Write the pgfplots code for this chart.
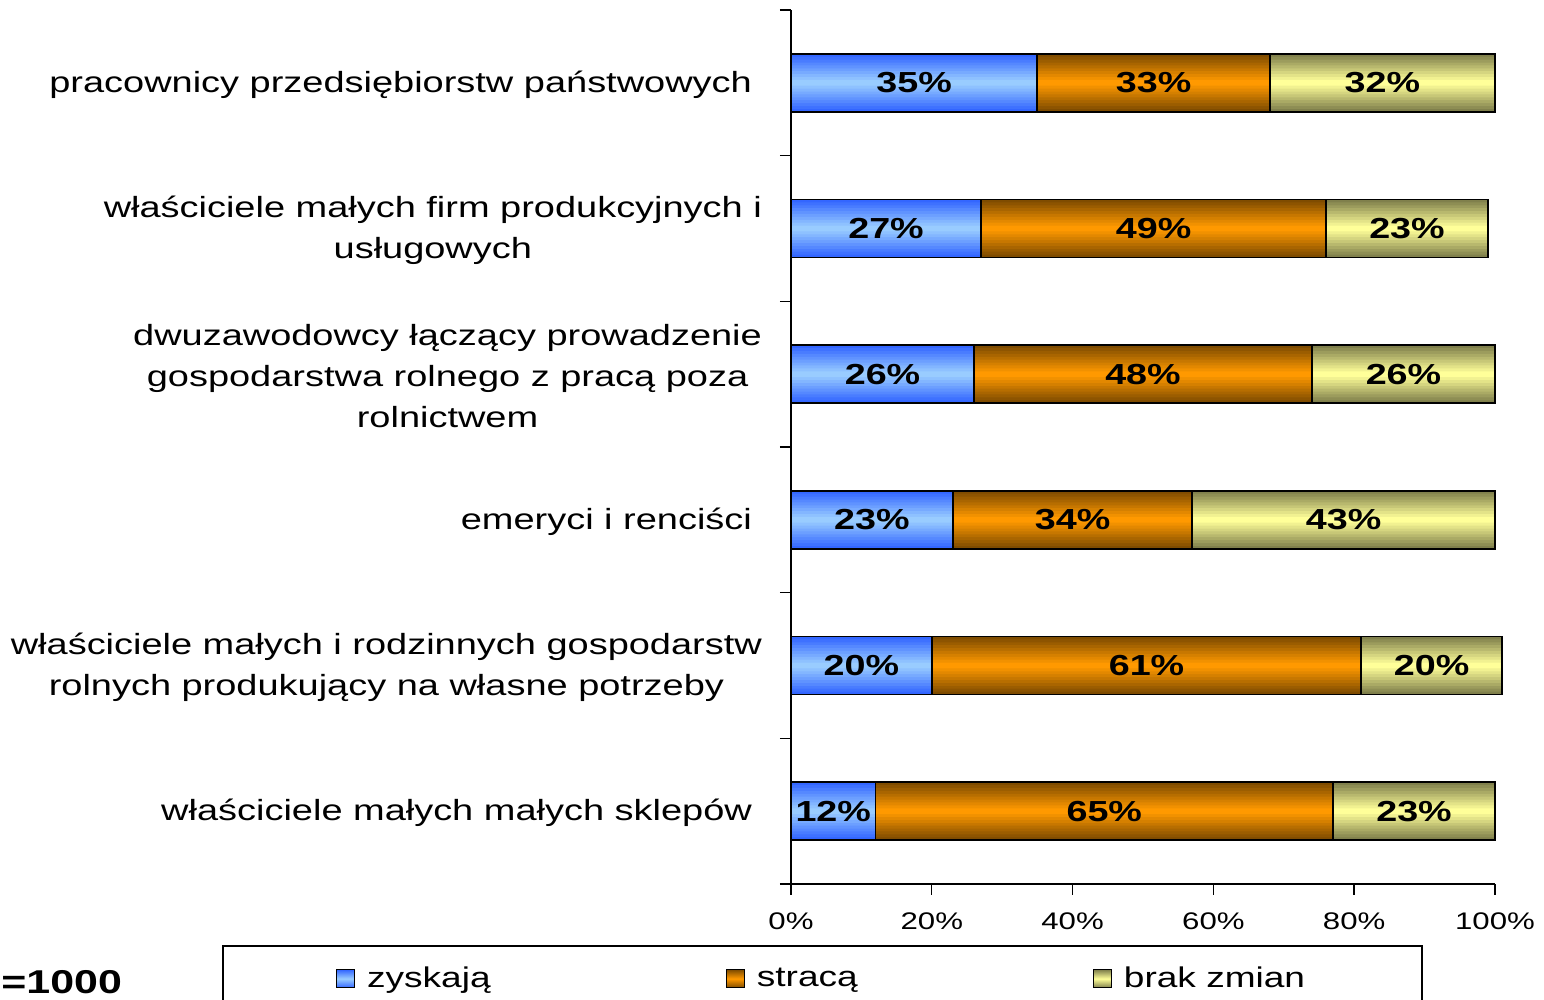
\documentclass[border=0pt]{standalone}
\usepackage{fontspec}
\setmainfont[FakeStretch=1.3]{Liberation Sans}
\usepackage{pgfplots}
\pgfplotsset{compat=1.18}
\pgfplotsset{/pgf/number format/assume math mode=true}
\definecolor{blueE}{HTML}{3366FF}
\definecolor{blueM}{HTML}{99CCFF}
\definecolor{orE}{HTML}{7F4C00}
\definecolor{orM}{HTML}{FF9900}
\definecolor{yeE}{HTML}{80804C}
\definecolor{yeM}{HTML}{FFFF99}
\pgfplotstableread{
y zy st br
0 12 65 23
1 20 61 20
2 23 34 43
3 26 48 26
4 27 49 23
5 35 33 32
}\datatab
\pgfplotsset{common/.style={at={(395.5pt,58pt)}, anchor=south west,
  scale only axis, width=352pt, height=437pt,
  xmin=0, xmax=100, ymin=-0.5, ymax=5.5, clip=false}}
\newcommand{\barlayer}[2]{%
\begin{axis}[common, hide axis, xbar stacked, bar width=#1pt]
\addplot[fill=blueM!#2!blueE, draw=none] table[x=zy, y=y] {\datatab};
\addplot[fill=orM!#2!orE, draw=none] table[x=st, y=y] {\datatab};
\addplot[fill=yeM!#2!yeE, draw=none] table[x=br, y=y] {\datatab};
\end{axis}}
\begin{document}
\begin{tikzpicture}
\useasboundingbox (0,0) rectangle (772pt,500pt);
\barlayer{29}{0}
\barlayer{26.1}{11}
\barlayer{23.2}{22}
\barlayer{20.3}{33}
\barlayer{17.4}{44}
\barlayer{14.5}{56}
\barlayer{11.6}{67}
\barlayer{8.7}{78}
\barlayer{5.8}{89}
\barlayer{2.9}{100}
\begin{axis}[
  common,
  xbar stacked, bar width=29pt,
  axis lines*=left,
  axis line style={line width=1pt, black},
  tick align=outside,
  major tick length=5.5pt,
  tick style={black, line width=0.7pt},
  xtick={0,20,...,100},
  xticklabel={\pgfmathprintnumber{\tick}\%},
  xticklabel style={font=\fontsize{12}{13}\selectfont, yshift=-5.5pt},
  ytick={-0.5,0.5,...,5.5},
  yticklabels={},
  extra y ticks={0,1,2,3,4,5},
  extra y tick labels={
    {właściciele małych małych sklepów\kern5pt},
    {właściciele małych i rodzinnych gospodarstw\\rolnych produkujący na własne potrzeby},
    {emeryci i renciści\kern5pt},
    {dwuzawodowcy łączący prowadzenie\\gospodarstwa rolnego z pracą poza\\rolnictwem},
    {właściciele małych firm produkcyjnych i\\usługowych},
    {pracownicy przedsiębiorstw państwowych\kern5pt}},
  extra y tick style={major tick length=0pt,
    yticklabel style={align=center, anchor=east, xshift=-11pt, yshift=-1pt,
      font=\fontsize{14.6}{20.5}\selectfont}},
  legend columns=3,
  legend style={at={(-0.8082,-0.0698)}, anchor=north west,
    draw=black, line width=0.9pt, inner xsep=56.5pt, inner ysep=8.5pt,
    font=\fontsize{14.25}{16}\selectfont,
    /tikz/every odd column/.append style={column sep=4pt},
    /tikz/every even column/.append style={column sep=115.5pt}},
  legend image code/.code={\draw[#1, line width=0.6pt] (0pt,-4.5pt) rectangle (9pt,4.5pt);},
]
\addplot[draw=black, fill=none, line width=0.9pt, forget plot] table[x=zy, y=y] {\datatab};
\addplot[draw=black, fill=none, line width=0.9pt, forget plot] table[x=st, y=y] {\datatab};
\addplot[draw=black, fill=none, line width=0.9pt, forget plot] table[x=br, y=y] {\datatab};
\addlegendimage{draw=black, top color=blueE, bottom color=blueE, middle color=blueM}
\addlegendentry{zyskają}
\addlegendimage{draw=black, top color=orE, bottom color=orE, middle color=orM}
\addlegendentry{stracą}
\addlegendimage{draw=black, top color=yeE, bottom color=yeE, middle color=yeM}
\addlegendentry{brak zmian}
\end{axis}
\begin{axis}[
  common, hide axis,
  nodes near coords={\pgfmathprintnumber{\pgfplotspointmeta}\%},
  every node near coord/.append style={anchor=center,
    font=\bfseries\fontsize{14.5}{16}\selectfont},
  point meta=explicit,
]
\addplot[draw=none, mark=none] table[x=x, y=y, meta=v] {
x y v
6 0 12
44.5 0 65
88.5 0 23
10 1 20
50.5 1 61
91 1 20
11.5 2 23
40 2 34
78.5 2 43
13 3 26
50 3 48
87 3 26
13.5 4 27
51.5 4 49
87.5 4 23
17.5 5 35
51.5 5 33
84 5 32
};
\end{axis}
\node[anchor=base west, inner sep=0pt, font=\bfseries\fontsize{16.5}{17}\selectfont] at (0.5pt,3pt) {=1000};
\end{tikzpicture}
\end{document}
